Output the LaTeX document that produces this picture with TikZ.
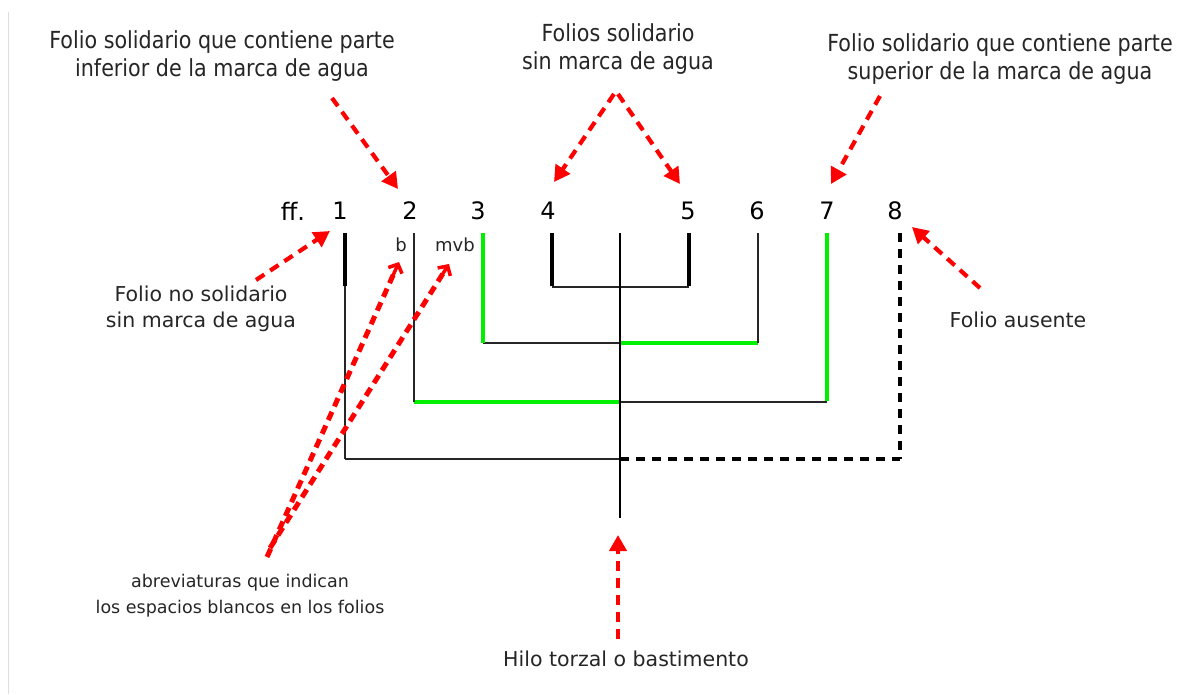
\documentclass[tikz,border=0pt]{standalone}
\usepackage{fontspec}
\setmainfont{DejaVu Sans}
\newfontfamily\condfont{DejaVu Sans}[FakeStretch=0.88]
\usetikzlibrary{arrows.meta,calc}
\definecolor{ink}{HTML}{262626}
\definecolor{lime}{HTML}{00F000}
\definecolor{arrred}{HTML}{FF0000}
\begin{document}
\begin{tikzpicture}[x=1pt,y=-1pt,
  thinl/.style={draw=ink,line width=1.4pt},
  thickl/.style={draw=black,line width=4pt},
  greenl/.style={draw=lime,line width=4pt},
  spinel/.style={draw=black,line width=2.6pt},
  absentl/.style={draw=black,line width=3.6pt,dash pattern=on 9pt off 7pt},
  redarr/.style={draw=arrred,line width=4.2pt,dash pattern=on 10pt off 7pt,
     -{Triangle[length=16pt,width=17pt]}},
  redline/.style={draw=arrred,line width=5pt,dash pattern=on 9pt off 6pt},
  redbarbtip/.style={draw=arrred,line width=3.5pt,solid,
     -{Straight Barb[length=7pt,width=15pt]}},
  toplab/.style={font=\condfont\fontsize{23.5}{28}\selectfont,text=ink,align=center,inner sep=0pt},
  lab/.style={font=\fontsize{20.5}{26}\selectfont,text=ink,align=center,inner sep=0pt},
  smalllab/.style={font=\fontsize{17.5}{26}\selectfont,text=ink,align=center,inner sep=0pt},
  num/.style={font=\fontsize{24}{26}\selectfont,text=black,inner sep=0pt},
  abbr/.style={font=\fontsize{18}{20}\selectfont,text=ink,inner sep=0pt}]
\useasboundingbox (0,0) rectangle (1187,694);
\fill[white] (0,0) rectangle (1187,694);
\draw[gray!25,line width=1pt] (8,12) -- (8,694);

% folio numbers
\node[num] (ff) at (293,211) {ff.};
\node[num] (f1) at (340,211) {1};
\node[num] (f2) at (410,211) {2};
\node[num] (f3) at (478,211) {3};
\node[num] (f4) at (548,211) {4};
\node[num] (f5) at (688,211) {5};
\node[num] (f6) at (757,211) {6};
\node[num] (f7) at (827,211) {7};
\node[num] (f8) at (895,211) {8};
\node[abbr] (b) at (401,245) {b};
\node[abbr] (mvb) at (455,245) {mvb};

% coordinates of the structure
\coordinate (t1) at (345,233); \coordinate (m1) at (345,286); \coordinate (e1) at (345,459);
\coordinate (t2) at (414,233); \coordinate (e2) at (414,402);
\coordinate (t3) at (483,233); \coordinate (e3) at (483,343);
\coordinate (t4) at (552,233); \coordinate (e4) at (552,287);
\coordinate (t5) at (689,233); \coordinate (e5) at (689,287);
\coordinate (t6) at (758,233); \coordinate (e6) at (758,343);
\coordinate (t7) at (827,233); \coordinate (e7) at (827,402);
\coordinate (t8) at (900,233); \coordinate (e8) at (900,459);
\coordinate (st) at (620,233); \coordinate (sb) at (620,518);
\coordinate (s287) at (620,287); \coordinate (s343) at (620,343);
\coordinate (s402) at (620,402); \coordinate (s459) at (620,459);

% horizontals
\draw[thinl] (e4) -- (e5);
\draw[thinl] (e3) -- (s343);
\draw[greenl] (s343) -- (e6);
\draw[greenl] (e2) -- (s402);
\draw[thinl] (s402) -- (e7);
\draw[thinl] (e1) -- (s459);
\draw[absentl] (s459) -- (e8);
% verticals
\draw[thickl] (t1) -- (m1);
\draw[thinl] (m1) -- (e1);
\draw[thinl] (t2) -- (e2);
\draw[greenl] (t3) -- (e3);
\draw[thickl] (t4) -- ([yshift=1.5pt]e4);
\draw[thickl] (t5) -- ([yshift=1.5pt]e5);
\draw[thinl] (t6) -- (e6);
\draw[greenl] (t7) -- ([yshift=1.5pt]e7);
\draw[absentl] (t8) -- (e8);
\draw[spinel] (st) -- (sb);

% labels
\node[toplab] (Linf) at (222,56) {Folio solidario que contiene parte\\inferior de la marca de agua};
\node[toplab] (Lsin) at (618,49) {Folios solidario\\sin marca de agua};
\node[toplab] (Lsup) at (1000,59) {Folio solidario que contiene parte\\superior de la marca de agua};
\node[lab] (Lno) at (201,309) {Folio no solidario\\sin marca de agua};
\node[lab] (Laus) at (1018,320) {Folio ausente};
\node[smalllab] (Labr) at (240,596) {abreviaturas que indican\\los espacios blancos en los folios};
\node[lab] (Lhilo) at (626,659) {Hilo torzal o bastimento};

% arrow endpoints
\coordinate (a1s) at (332,98);  \coordinate (a1e) at (398,189);
\coordinate (a2s) at (614,94);  \coordinate (a2e) at (554,182);
\coordinate (a3s) at (618,94);  \coordinate (a3e) at (680,184);
\coordinate (a4s) at (880,96);  \coordinate (a4e) at (831,184);
\coordinate (a5s) at (256,280); \coordinate (a5e) at (330,231);
\coordinate (a6s) at (980,288); \coordinate (a6e) at (912,227);
\coordinate (a7s) at (267,557); \coordinate (a7e) at (399,262);
\coordinate (a8s) at (270,548); \coordinate (a8e) at (449,264);
\coordinate (a9s) at (618,639); \coordinate (a9e) at (618,535);

\draw[redarr] (a1s) -- (a1e);
\draw[redarr] (a2s) -- (a2e);
\draw[redarr] (a3s) -- (a3e);
\draw[redarr] (a4s) -- (a4e);
\draw[redarr] (a5s) -- (a5e);
\draw[redarr] (a6s) -- (a6e);
\draw[redarr] (a9s) -- (a9e);
% abbreviation arrows: dashed shaft, solid open tip
\draw[redline] (a7s) -- ($(a7s)!0.97!(a7e)$);
\draw[redbarbtip] ($(a7s)!0.95!(a7e)$) -- (a7e);
\draw[redline] (a8s) -- ($(a8s)!0.97!(a8e)$);
\draw[redbarbtip] ($(a8s)!0.95!(a8e)$) -- (a8e);
\end{tikzpicture}
\end{document}
